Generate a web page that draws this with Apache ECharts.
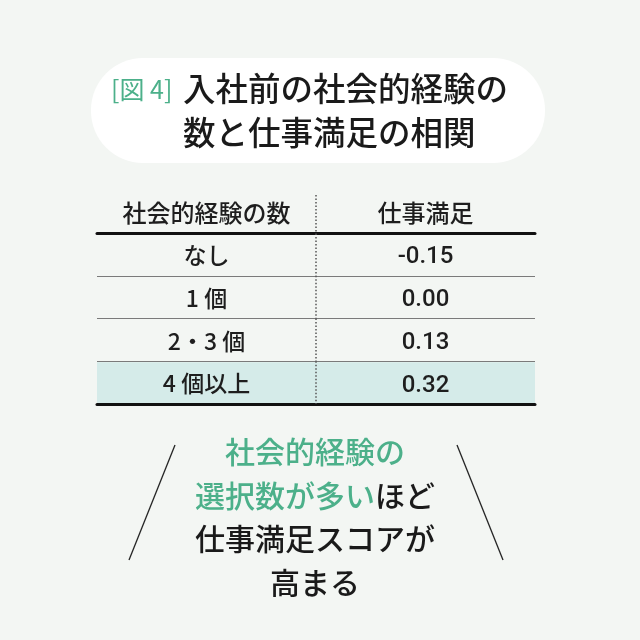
<!DOCTYPE html>
<html><head><meta charset="utf-8">
<script src="https://cdn.jsdelivr.net/npm/echarts@6/dist/echarts.min.js"></script>
<style>html,body{margin:0;padding:0;background:#f3f6f3;}#c{width:640px;height:640px;}</style>
</head><body><div id="c"></div>
<script>
const titleTag = '[図 4]';
const titleLines = ['入社前の社会的経験の', '数と仕事満足の相関'];
const headers = ['社会的経験の数', '仕事満足'];
const categories = ['なし', '1 個', '2・3 個', '4 個以上'];
const values = ['-0.15', '0.00', '0.13', '0.32'];
const highlightRow = 3;
const noteLines = [
  [['g', '社会的経験の']],
  [['g', '選択数が多い'], ['k', 'ほど']],
  [['k', '仕事満足スコアが']],
  [['k', '高まる']]
];

const FONT = '"Noto Sans CJK JP", "Noto Sans", sans-serif';
const NUMFONT = 'Roboto, "Noto Sans CJK JP", sans-serif';
const GREEN = '#4cb08a';
const chart = echarts.init(document.getElementById('c'));

const rowData = categories.map((c, i) => [i]);

const noteText = noteLines.map(l => l.map(p => '{' + p[0] + '|' + p[1] + '}').join('')).join('\n');

chart.setOption({
  backgroundColor: '#f3f6f3',
  animation: false,
  grid: { left: 97, right: 105, top: 233, height: 171 },
  xAxis: [
    { type: 'category', data: headers, position: 'top', boundaryGap: true,
      axisLine: { show: true, lineStyle: { color: '#111', width: 3 } },
      axisTick: { show: false }, splitLine: { show: false },
      axisLabel: { margin: 8, fontSize: 24, color: '#1e1e1e', fontFamily: FONT, fontWeight: 500 } },
    { type: 'category', data: headers, position: 'bottom', boundaryGap: true,
      axisLine: { show: true, lineStyle: { color: '#111', width: 3 } },
      axisTick: { show: false }, axisLabel: { show: false }, splitLine: { show: false } }
  ],
  yAxis: { type: 'category', data: categories, inverse: true, boundaryGap: true,
    axisLine: { show: false }, axisTick: { show: false }, axisLabel: { show: false },
    splitLine: { show: true, lineStyle: { color: '#7a7a7a', width: 1 } } },
  series: [{
    type: 'custom',
    data: rowData,
    encode: { y: 0 },
    renderItem: function (params, api) {
      const r = params.dataIndex;
      const p0 = api.coord([0, r]);
      const p1 = api.coord([1, r]);
      const sz = api.size([1, 1]);
      const cw = sz[0], ch = sz[1];
      const left = p0[0] - cw / 2, top = p0[1] - ch / 2;
      const children = [];
      if (r === highlightRow) {
        children.push({ type: 'rect', shape: { x: left, y: top + 1, width: cw * 2, height: ch - 2 },
          style: { fill: '#d5ebe9' }, z2: 0 });
      }
      const mid = (p0[0] + p1[0]) / 2;
      children.push({ type: 'line', shape: { x1: mid, y1: r === 0 ? top - 38 : top, x2: mid, y2: top + ch },
        style: { stroke: '#555', lineWidth: 1.5, lineDash: [1.5, 2] }, z2: 2 });
      children.push({ type: 'text', x: p0[0], y: p0[1] + 1, style: { text: categories[r], align: 'center', verticalAlign: 'middle',
        fontSize: 23, fill: '#1e1e1e', fontFamily: FONT, fontWeight: 500 }, z2: 3 });
      children.push({ type: 'text', x: p1[0], y: p1[1] + 3, style: { text: values[r], align: 'center', verticalAlign: 'middle',
        fontSize: 24, fill: '#1e1e1e', fontFamily: NUMFONT, fontWeight: 500 }, z2: 3 });
      return { type: 'group', children: children };
    }
  }],
  graphic: [
    { type: 'rect', shape: { x: 91, y: 58, width: 454, height: 105, r: 52 }, style: { fill: '#ffffff' }, z: -1 },
    { type: 'text', x: 111, y: 89, style: { text: titleTag, fontSize: 25, fill: GREEN, fontFamily: FONT, verticalAlign: 'middle', align: 'left' } },
    { type: 'text', x: 183, y: 89, style: { text: titleLines[0], fontSize: 32.5, fill: '#1a1a1a', fontFamily: FONT, fontWeight: 500, verticalAlign: 'middle', align: 'left' } },
    { type: 'text', x: 183, y: 133, style: { text: titleLines[1], fontSize: 32.5, fill: '#1a1a1a', fontFamily: FONT, fontWeight: 500, verticalAlign: 'middle', align: 'left' } },
    { type: 'text', x: 315, y: 430, style: { text: noteText, align: 'center', verticalAlign: 'top', fontFamily: FONT,
      rich: { g: { fontSize: 30, lineHeight: 43.5, fill: GREEN, fontFamily: FONT, fontWeight: 500 }, k: { fontSize: 30, lineHeight: 43.5, fill: '#1a1a1a', fontFamily: FONT, fontWeight: 500 } } } },
    { type: 'line', shape: { x1: 175, y1: 445, x2: 129, y2: 560 }, style: { stroke: '#222', lineWidth: 1.3 } },
    { type: 'line', shape: { x1: 457, y1: 445, x2: 503, y2: 560 }, style: { stroke: '#222', lineWidth: 1.3 } }
  ]
});
</script></body></html>
